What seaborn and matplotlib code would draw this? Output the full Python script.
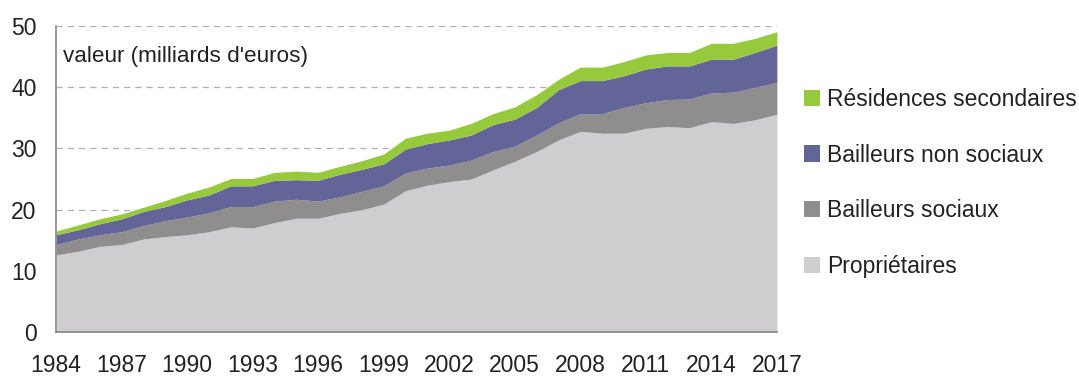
import numpy as np
import pandas as pd
import matplotlib
matplotlib.use("Agg")
import matplotlib.pyplot as plt
import seaborn as sns

# Values in billions of euros, by year and by owner type
years = list(range(1984, 2018))
proprietaires = [12.6, 13.2, 14.0, 14.3, 15.2, 15.6, 15.9, 16.4, 17.2, 17.0,
                 17.9, 18.6, 18.6, 19.4, 20.0, 20.9, 23.1, 24.0, 24.6, 25.0,
                 26.5, 27.9, 29.5, 31.4, 32.8, 32.5, 32.5, 33.3, 33.6, 33.4,
                 34.4, 34.1, 34.7, 35.6]
bailleurs_sociaux = [1.7, 2.0, 1.9, 2.1, 2.2, 2.6, 2.9, 3.1, 3.3, 3.5,
                     3.5, 3.1, 2.8, 2.7, 3.0, 3.0, 2.9, 2.8, 2.7, 3.1,
                     3.0, 2.5, 2.7, 2.8, 2.9, 3.2, 4.2, 4.2, 4.4, 4.7,
                     4.7, 5.1, 5.3, 5.2]
bailleurs_non_sociaux = [1.6, 1.5, 1.8, 2.1, 2.3, 2.3, 2.8, 2.9, 3.4, 3.4,
                         3.4, 3.2, 3.4, 3.7, 3.6, 3.6, 3.9, 4.0, 4.1, 4.1,
                         4.4, 4.4, 4.5, 5.4, 5.4, 5.4, 5.2, 5.5, 5.5, 5.4,
                         5.5, 5.4, 5.7, 6.1]
residences_secondaires = [0.6, 0.8, 0.8, 0.8, 0.7, 1.0, 1.1, 1.3, 1.2, 1.2,
                          1.3, 1.4, 1.3, 1.3, 1.4, 1.6, 1.8, 1.7, 1.6, 1.9,
                          1.8, 2.0, 2.1, 1.7, 2.2, 2.2, 2.3, 2.3, 2.2, 2.2,
                          2.6, 2.6, 2.3, 2.2]

series_labels = ["Propriétaires", "Bailleurs sociaux",
                 "Bailleurs non sociaux", "Résidences secondaires"]
series_colors = ["#cfcdcf", "#8f8d8e", "#636598", "#97c93c"]
xtick_years = list(range(1984, 2018, 3))
ytick_values = [0, 10, 20, 30, 40, 50]

df = pd.DataFrame({
    "annee": years,
    series_labels[0]: proprietaires,
    series_labels[1]: bailleurs_sociaux,
    series_labels[2]: bailleurs_non_sociaux,
    series_labels[3]: residences_secondaires,
})

sns.set_theme(style="white")
plt.rcParams["font.family"] = ["Liberation Sans", "DejaVu Sans"]

fig = plt.figure(figsize=(10.79, 3.79), dpi=100)
ax = fig.add_axes([0.052, 0.124, 0.668, 0.807])

ax.set_axisbelow(True)
for v in ytick_values[1:]:
    ax.axhline(v, color="#b0b0b0", lw=0.9, ls=(0, (5, 4)), zorder=0)

polys = ax.stackplot(df["annee"], *[df[c] for c in series_labels],
                     colors=series_colors, labels=series_labels,
                     linewidth=0, zorder=2)

ax.set_xlim(1984, 2017)
ax.set_ylim(0, 50)
ax.set_xticks(xtick_years)
ax.set_xticklabels([str(y) for y in xtick_years])
ax.set_yticks(ytick_values)
ax.tick_params(axis="both", labelsize=16.5, colors="#888888",
               labelcolor="#222222", width=1, direction="out")
ax.tick_params(axis="x", length=7, pad=9)
ax.tick_params(axis="y", length=6, pad=8)
ax.grid(False)

sns.despine(ax=ax, top=True, right=True)
for side in ("left", "bottom"):
    ax.spines[side].set_color("#888888")
    ax.spines[side].set_linewidth(1.2)
    ax.spines[side].set_zorder(3)

ax.text(0.009, 0.935, "valeur (milliards d'euros)", transform=ax.transAxes,
        fontsize=16.2, color="#222222", va="top", ha="left")

handles, labels = ax.get_legend_handles_labels()
leg = fig.legend(handles[::-1], labels[::-1], loc="upper left",
                 bbox_to_anchor=(0.737, 0.792), frameon=False,
                 fontsize=16.5, handlelength=0.7, handleheight=0.7,
                 handletextpad=0.3, labelspacing=1.42, borderaxespad=0)
for t in leg.get_texts():
    t.set_color("#222222")

fig.savefig("out.png", dpi=100)
